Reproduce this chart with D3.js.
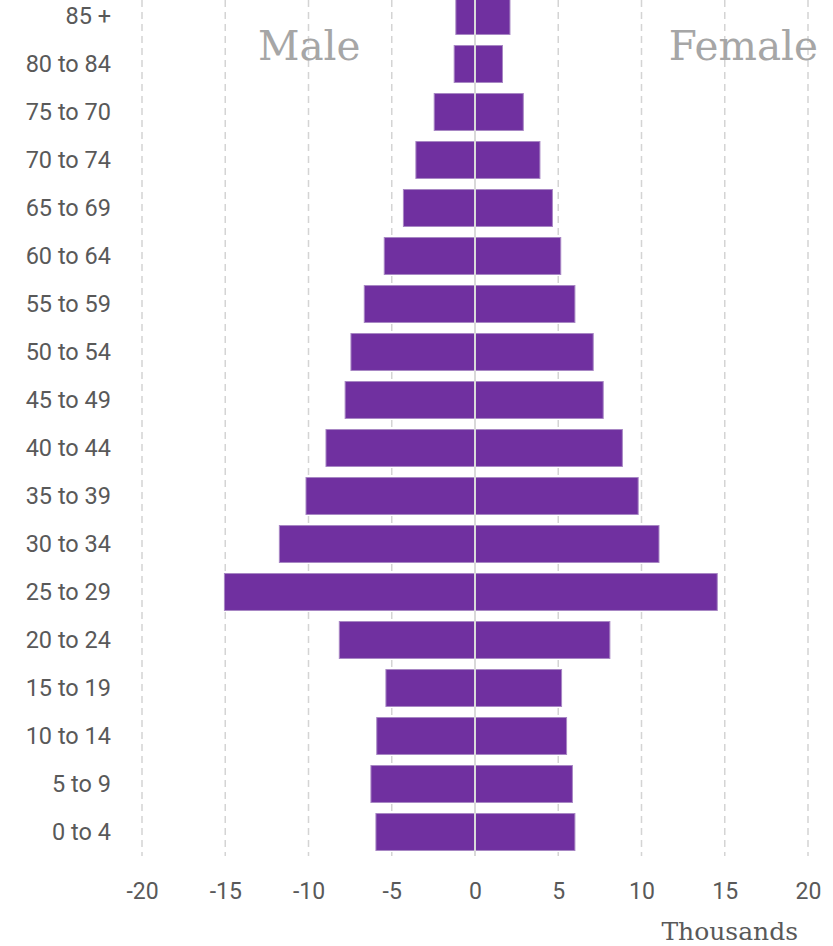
<!DOCTYPE html>
<html lang="en">
<head>
    <meta charset="UTF-8">
    <title>Population pyramid</title>
    <script src="https://d3js.org/d3.v7.min.js"></script>
</head>
<style>
    body {
        margin: 0;
        padding: 0;
        background: #fff;
    }
    svg {
        font-family: Roboto, sans-serif;
    }
    .slab {
        font-family: "Roboto Slab", "DejaVu Serif", serif;
    }
</style>
<body>
<div class="chart-container"></div>
<script>
  /** DATA (thousands) - top row first */
  var ageGroups = ['85 +', '80 to 84', '75 to 70', '70 to 74', '65 to 69', '60 to 64',
    '55 to 59', '50 to 54', '45 to 49', '40 to 44', '35 to 39', '30 to 34',
    '25 to 29', '20 to 24', '15 to 19', '10 to 14', '5 to 9', '0 to 4'];
  var maleValues = [-1.15, -1.25, -2.45, -3.55, -4.3, -5.45, -6.65, -7.45, -7.8, -8.95,
    -10.15, -11.75, -15.05, -8.15, -5.35, -5.9, -6.25, -5.95];
  var femaleValues = [2.1, 1.65, 2.9, 3.9, 4.65, 5.15, 6.0, 7.1, 7.7, 8.85,
    9.8, 11.05, 14.55, 8.1, 5.2, 5.5, 5.85, 6.0];
  var xTicks = [-20, -15, -10, -5, 0, 5, 10, 15, 20];

  var width = 833, height = 946;

  var svg_selection = d3.select('.chart-container')
    .append('svg')
    .attr('width', width)
    .attr('height', height);

  /** SCALES */
  var x = d3.scaleLinear().domain([-20, 20]).range([142, 808]);
  var y = d3.scaleBand().domain(ageGroups).range([-8, 856])
    .paddingInner(0.23).paddingOuter(0.115);

  /** dashed grid lines */
  svg_selection.append('g')
    .selectAll('line')
    .data(xTicks.filter(function (d) { return d !== 0; }))
    .enter().append('line')
    .attr('x1', function (d) { return x(d); })
    .attr('x2', function (d) { return x(d); })
    .attr('y1', 0)
    .attr('y2', 856)
    .attr('stroke', '#d4d4d4')
    .attr('stroke-width', 1.5)
    .attr('stroke-dasharray', '7,5');

  /** bars */
  var bars = svg_selection.append('g');
  bars.selectAll('rect.male')
    .data(ageGroups)
    .enter().append('rect')
    .classed('male', true)
    .attr('x', function (d, i) { return x(maleValues[i]); })
    .attr('width', function (d, i) { return x(0) - x(maleValues[i]); })
    .attr('y', function (d) { return y(d); })
    .attr('height', y.bandwidth())
    .attr('fill', '#7030a0')
    .attr('stroke', '#a887c4')
    .attr('stroke-width', 1);
  bars.selectAll('rect.female')
    .data(ageGroups)
    .enter().append('rect')
    .classed('female', true)
    .attr('x', x(0))
    .attr('width', function (d, i) { return x(femaleValues[i]) - x(0); })
    .attr('y', function (d) { return y(d); })
    .attr('height', y.bandwidth())
    .attr('fill', '#7030a0')
    .attr('stroke', '#a887c4')
    .attr('stroke-width', 1);

  /** zero line */
  svg_selection.append('line')
    .attr('x1', x(0)).attr('x2', x(0))
    .attr('y1', 0).attr('y2', 856)
    .attr('stroke', '#d9d9d9')
    .attr('stroke-width', 2);

  /** category labels */
  svg_selection.append('g')
    .selectAll('text')
    .data(ageGroups)
    .enter().append('text')
    .attr('x', 111)
    .attr('y', function (d) { return y(d) + y.bandwidth() / 2; })
    .attr('dy', '0.35em')
    .attr('text-anchor', 'end')
    .attr('font-size', 23.5)
    .attr('fill', '#595959')
    .text(function (d) { return d; });

  /** x axis labels - plain hyphen for negatives */
  var xAxis = svg_selection.append('g')
    .attr('transform', 'translate(0,882.5)')
    .call(d3.axisBottom(x).tickValues(xTicks).tickSize(0).tickPadding(0)
      .tickFormat(function (d) { return String(d); }));
  xAxis.select('.domain').remove();
  xAxis.selectAll('text')
    .attr('font-family', 'Roboto, sans-serif')
    .attr('font-size', 23)
    .attr('fill', '#595959');

  svg_selection.append('text')
    .classed('slab', true)
    .attr('x', 798)
    .attr('y', 940)
    .attr('text-anchor', 'end')
    .attr('font-size', 25)
    .attr('fill', '#595959')
    .text('Thousands');

  /** side titles */
  svg_selection.append('text')
    .classed('slab', true)
    .attr('x', 258)
    .attr('y', 60)
    .attr('font-size', 40.5)
    .attr('fill', '#a6a6a6')
    .text('Male');
  svg_selection.append('text')
    .classed('slab', true)
    .attr('x', 818)
    .attr('y', 60)
    .attr('text-anchor', 'end')
    .attr('font-size', 40.5)
    .attr('fill', '#a6a6a6')
    .text('Female');
</script>
</body>
</html>
